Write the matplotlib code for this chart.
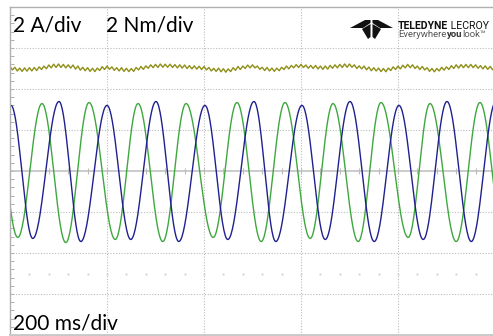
import numpy as np
import matplotlib
matplotlib.use('Agg')
from matplotlib import pyplot as plt
from matplotlib.patches import Polygon

# scope settings
ms_per_div = 200
amp_per_div = 2  # 2 A/div and 2 Nm/div share the same scale

# current extremes: (time ms, value A)
blue_extremes_t = [-47, 2, 47, 101, 146, 200, 249, 301, 348, 402, 449, 503, 548,
                   602, 650, 701, 751, 802, 852, 901, 951, 1002, 1052]
blue_extremes_v = [-3.34, 3.20, -3.29, 3.39, -3.44, 3.20, -3.34, 3.39, -3.44, 3.20, -3.34, 3.39,
                   -3.44, 3.20, -3.34, 3.39, -3.44, 3.20, -3.34, 3.39, -3.44, 3.39, -3.34]
green_extremes_t = [-33, 16, 66, 115, 163, 217, 264, 315, 363, 419, 468, 518, 567,
                    619, 666, 718, 765, 821, 866, 920, 969, 1019]
green_extremes_v = [3.34, -3.24, 3.29, -3.49, 3.34, -3.34, 3.29, -3.44, 3.29, -3.24, 3.34, -3.44,
                    3.34, -3.29, 3.29, -3.44, 3.34, -3.24, 3.29, -3.44, 3.34, -3.34]

# torque samples every 5 ms (Nm)
torque_t = np.arange(0, 1001, 5)
torque_v = [
    5.10, 4.93, 5.06, 4.88, 5.02, 4.86, 5.03, 4.87, 5.04, 4.88,
    5.05, 4.90, 5.08, 4.95, 5.12, 4.99, 5.17, 5.03, 5.21, 5.05,
    5.22, 5.05, 5.20, 5.03, 5.18, 5.02, 5.17, 4.97, 5.12, 4.92,
    5.06, 4.89, 5.04, 4.86, 5.01, 4.85, 5.02, 4.90, 5.09, 4.95,
    5.12, 4.96, 5.08, 4.91, 5.04, 4.88, 5.04, 4.86, 5.01, 4.85,
    5.00, 4.86, 5.05, 4.93, 5.10, 4.96, 5.13, 5.01, 5.18, 5.04,
    5.20, 5.05, 5.22, 5.06, 5.21, 5.06, 5.21, 5.05, 5.19, 5.03,
    5.18, 5.02, 5.17, 5.00, 5.14, 4.98, 5.13, 4.97, 5.11, 4.95,
    5.10, 4.93, 5.05, 4.88, 5.01, 4.86, 5.02, 4.84, 4.99, 4.82,
    4.98, 4.85, 5.04, 4.91, 5.10, 4.95, 5.12, 5.00, 5.17, 5.03,
    5.18, 5.03, 5.12, 4.96, 5.06, 4.90, 5.05, 4.88, 5.02, 4.86,
    5.02, 4.89, 5.06, 4.95, 5.12, 4.98, 5.15, 5.03, 5.19, 5.05,
    5.20, 5.05, 5.17, 5.01, 5.15, 5.00, 5.15, 4.98, 5.12, 4.96,
    5.12, 4.97, 5.15, 5.01, 5.18, 5.03, 5.20, 5.05, 5.22, 5.06,
    5.22, 5.06, 5.18, 5.00, 5.13, 4.98, 5.12, 4.94, 5.07, 4.89,
    5.04, 4.88, 5.02, 4.85, 5.00, 4.84, 5.02, 4.90, 5.08, 4.95,
    5.12, 4.98, 5.16, 5.03, 5.20, 5.04, 5.18, 5.00, 5.12, 4.95,
    5.10, 4.93, 5.04, 4.86, 5.00, 4.84, 5.00, 4.88, 5.06, 4.92,
    5.08, 4.95, 5.14, 5.00, 5.18, 5.02, 5.19, 5.04, 5.20, 5.04,
    5.20, 5.04, 5.18, 5.01, 5.14, 4.98, 5.13, 4.96, 5.10, 4.94,
    5.08]


def trace(ext_t, ext_v, n=40):
    # join the read extremes with half-cosine segments, like the scope trace
    ts, vs = [], []
    for i in range(len(ext_t) - 1):
        s = np.linspace(0, 1, n, endpoint=False)
        ts.append(ext_t[i] + (ext_t[i+1] - ext_t[i]) * s)
        vs.append(ext_v[i] + (ext_v[i+1] - ext_v[i]) * (1 - np.cos(np.pi * s)) / 2)
    return np.concatenate(ts), np.concatenate(vs)


W, H = 493, 336
fig = plt.figure(figsize=(W / 100, H / 100), dpi=100)
ax = fig.add_axes([10 / W, 1 - 335 / H, 485 / W, 328 / H])
ax.set_xlim(0, 5 * ms_per_div)
ax.set_ylim(-4 * amp_per_div, 4 * amp_per_div)

# grid
for gx in range(1, 5):
    ax.axvline(gx * ms_per_div, color='#bcbcbc', lw=0.8, ls=(0, (1, 1.5)))
for gy in [-6, -4, -2, 2, 4, 6]:
    ax.axhline(gy, color='#bcbcbc', lw=0.8, ls=(0, (1, 1.5)))
ax.axhline(0, color='#bdbdbd', lw=1.1)
tick_x = np.arange(0, 1001, 40)
ax.plot(tick_x, np.zeros_like(tick_x), ls='none', marker='|', ms=4, color='#bdbdbd', mew=0.8)
ax.plot(tick_x, np.full(len(tick_x), -5.0), ls='none', marker='.', ms=1.3, color='#d6d6d6')

ax.set_xticks([])
ax.set_yticks(np.arange(-8, 8.1, 0.4), minor=True)
ax.set_yticks([])
ax.tick_params(axis='y', which='minor', direction='in', length=3, color='#b0b0b0', width=0.7)
for side in ['left', 'top', 'bottom']:
    ax.spines[side].set_color('#b0b0b0')
    ax.spines[side].set_linewidth(1.0)
ax.spines['bottom'].set_linewidth(2.0)
ax.spines['bottom'].set_color('#c8c8c8')
ax.spines['right'].set_visible(False)

# traces
bt, bv = trace(blue_extremes_t, blue_extremes_v)
gt, gv = trace(green_extremes_t, green_extremes_v)
ax.plot(gt, gv / amp_per_div * 2, color='#3ea83e', lw=1.0)
ax.plot(bt, bv / amp_per_div * 2, color='#20208f', lw=1.0)
ax.plot(torque_t, np.array(torque_v) / amp_per_div * 2, color='#8f8f18', lw=1.0)

# labels
fs = 15
fig.text(13 / W, 1 - 31 / H, '2 A/div', fontsize=fs, family='Lato', va='baseline')
fig.text(106 / W, 1 - 31 / H, '2 Nm/div', fontsize=fs, family='Lato', va='baseline')
fig.text(13 / W, 1 - 329 / H, '200 ms/div', fontsize=fs, family='Lato', va='baseline')

# logo
def P(pts):
    return [(x / W, 1 - y / H) for x, y in pts]

emblem = [
    [(350, 28), (365, 20), (370.5, 20), (370.5, 23), (363, 28)],
    [(393, 28), (378, 20), (372.5, 20), (372.5, 23), (380, 28)],
    [(362, 29), (370.5, 24), (370.5, 37), (368, 39)],
    [(381, 29), (372.5, 24), (372.5, 37), (375, 39)],
]
for poly in emblem:
    fig.add_artist(Polygon(P(poly), closed=True, transform=fig.transFigure,
                           facecolor='#111111', edgecolor='none'))

t1 = fig.text(398 / W, 1 - 29 / H, 'TELEDYNE', fontsize=7.6, family='Roboto',
              weight='bold', color='#111111', va='baseline')
ax.annotate(' LECROY', xy=(1, 0), xycoords=t1, fontsize=7.6, family='Roboto',
            color='#111111', va='bottom')
t2 = fig.text(398 / W, 1 - 37 / H, 'Everywhere', fontsize=6.8, family='Roboto',
              color='#555555', va='baseline')
t3 = ax.annotate('you', xy=(1, 0), xycoords=t2, fontsize=6.8, family='Roboto',
                 weight='bold', color='#333333', va='bottom')
ax.annotate('look\u2122', xy=(1, 0), xycoords=t3, fontsize=6.8, family='Roboto',
            color='#555555', va='bottom')

plt.savefig('out.png', dpi=100)
